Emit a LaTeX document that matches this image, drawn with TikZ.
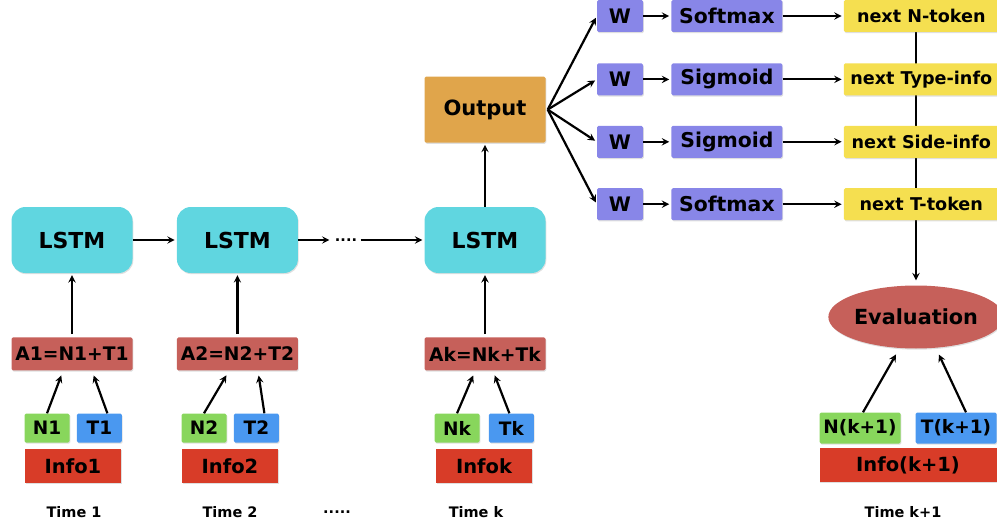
\documentclass[tikz,border=0pt]{standalone}
\usepackage{fontspec}
\setmainfont{DejaVu Sans}
\usepackage{tikz}
\usetikzlibrary{shapes.geometric, arrows, calc, positioning, shadows, backgrounds}
\definecolor{lstmcyan}{RGB}{96,214,224}
\definecolor{outorange}{RGB}{224,165,75}
\definecolor{sumred}{RGB}{198,96,90}
\definecolor{ngreen}{RGB}{136,214,92}
\definecolor{tblue}{RGB}{74,152,240}
\definecolor{infored}{RGB}{216,60,40}
\definecolor{wpurple}{RGB}{136,134,232}
\definecolor{nextyellow}{RGB}{245,223,80}
\tikzstyle{softshadow} = [drop shadow={shadow xshift=0.8pt, shadow yshift=-1.2pt, opacity=0.25}]
\tikzstyle{lstm} = [rectangle, rounded corners=14pt, fill=lstmcyan, minimum width=121pt, minimum height=66pt, inner sep=0pt, font=\fontsize{22}{26}\selectfont\bfseries, softshadow]
\tikzstyle{outbox} = [rectangle, rounded corners=1.5pt, fill=outorange, minimum width=121pt, minimum height=66pt, inner sep=0pt, font=\fontsize{21}{25}\selectfont\bfseries, softshadow]
\tikzstyle{sumbox} = [rectangle, rounded corners=1.5pt, fill=sumred, minimum width=121pt, minimum height=33pt, inner sep=0pt, font=\fontsize{18.7}{22}\selectfont\bfseries, softshadow]
\tikzstyle{ntok} = [rectangle, rounded corners=1.5pt, fill=ngreen, minimum width=45pt, minimum height=29pt, inner sep=0pt, font=\fontsize{18.5}{22}\selectfont\bfseries, softshadow]
\tikzstyle{ttok} = [ntok, fill=tblue]
\tikzstyle{infobox} = [rectangle, fill=infored, minimum width=96pt, minimum height=34pt, inner sep=0pt, font=\fontsize{19.5}{23}\selectfont\bfseries, softshadow]
\tikzstyle{wbox} = [rectangle, rounded corners=1.5pt, fill=wpurple, minimum width=46pt, minimum height=32pt, inner sep=0pt, font=\fontsize{20}{24}\selectfont\bfseries, softshadow]
\tikzstyle{actbox} = [wbox, minimum width=111pt, font=\fontsize{20.4}{24}\selectfont\bfseries]
\tikzstyle{nextbox} = [rectangle, rounded corners=1.5pt, fill=nextyellow, minimum width=155pt, minimum height=32pt, inner sep=0pt, font=\fontsize{17.6}{21}\selectfont\bfseries, softshadow]
\tikzstyle{evalnode} = [ellipse, fill=sumred, minimum width=155pt, minimum height=63pt, inner sep=0pt, font=\fontsize{20.8}{25}\selectfont\bfseries, softshadow]
\tikzstyle{timelabel} = [font=\fontsize{14.5}{17}\selectfont\bfseries]
\tikzstyle{arrow} = [line width=2.2pt,->,>=stealth, shorten >=2pt]

\begin{document}
\begin{tikzpicture}[x=1pt, y=-1pt]
	\useasboundingbox (0,0) rectangle (997,527);
	% recurrent chain
	\node (LSTMOne) [lstm] at (72,240) {LSTM};
	\node (LSTMTwo) [lstm, right = 44pt of LSTMOne] {LSTM};
	\node (Dots) [timelabel] at (346,240) {....};
	\node (LSTMk) [lstm] at (485,240) {LSTM};
	\node (Output) [outbox, above = 64pt of LSTMk] {Output};
	% inputs
	\node (AOne) [sumbox, below = 64pt of LSTMOne] {A1=N1+T1};
	\node (ATwo) [sumbox, below = 64pt of LSTMTwo] {A2=N2+T2};
	\node (Ak) [sumbox, below = 64pt of LSTMk] {Ak=Nk+Tk};
	\node (NOne) [ntok] at (47,428) {N1};
	\node (TOne) [ttok, right = 7pt of NOne] {T1};
	\node (InfoOne) [infobox] at (73,466) {Info1};
	\node (NTwo) [ntok] at (204,428) {N2};
	\node (TTwo) [ttok, right = 7pt of NTwo] {T2};
	\node (InfoTwo) [infobox] at (230,466) {Info2};
	\node (Nk) [ntok] at (457,428) {Nk};
	\node (Tk) [ttok, right = 9pt of Nk] {Tk};
	\node (Infok) [infobox] at (484,466) {Infok};
	% output heads
	\node (WOne) [wbox] at (620,16) {W};
	\node (WTwo) [wbox, below = 31pt of WOne] {W};
	\node (WThree) [wbox, below = 30pt of WTwo] {W};
	\node (WFour) [wbox, below = 30pt of WThree] {W};
	\node (SoftOne) [actbox, right = 28pt of WOne] {Softmax};
	\node (SigOne) [actbox, right = 28pt of WTwo] {Sigmoid};
	\node (SigTwo) [actbox, right = 28pt of WThree] {Sigmoid};
	\node (SoftTwo) [actbox, right = 28pt of WFour] {Softmax};
	\node (NextN) [nextbox, right = 61pt of SoftOne] {next N-token};
	\node (NextType) [nextbox, right = 61pt of SigOne] {next Type-info};
	\node (NextSide) [nextbox, right = 61pt of SigTwo] {next Side-info};
	\node (NextT) [nextbox, right = 61pt of SoftTwo] {next T-token};
	% evaluation at k+1
	\node (Evaluation) [evalnode] at (916,317) {Evaluation};
	\node (NkOne) [ntok, minimum width=81pt, minimum height=31pt] at (860,428) {N(k+1)};
	\node (TkOne) [ttok, minimum width=81pt, minimum height=31pt] at (956,428) {T(k+1)};
	\node (InfokOne) [infobox, minimum width=177pt] at (908,465) {Info(k+1)};
	% time labels
	\node (TimeOne) [timelabel] at (74,512) {Time 1};
	\node (TimeTwo) [timelabel] at (230,512) {Time 2};
	\node (TimeDots) [timelabel] at (337,512) {.....};
	\node (Timek) [timelabel] at (476,512) {Time k};
	\node (TimekOne) [timelabel] at (903,512) {Time k+1};

	\draw [arrow] (LSTMOne) -- (LSTMTwo);
	\draw [arrow] (LSTMTwo) -- (Dots);
	\draw [arrow] (Dots) -- (LSTMk);
	\draw [arrow] (LSTMk) -- (Output);
	\draw [arrow, shorten <=3pt] (AOne) -- (LSTMOne);
	\draw [arrow, shorten <=3pt] (ATwo) -- (LSTMTwo);
	\draw [arrow, shorten <=3pt] (Ak) -- (LSTMk);
	\draw [arrow] (NOne.north) -- ([xshift=-10pt, yshift=-3pt]AOne.south);
	\draw [arrow] ([xshift=8pt]TOne.north) -- ([xshift=21pt, yshift=-3pt]AOne.south);
	\draw [arrow] (NTwo.north) -- ([xshift=-10pt, yshift=-3pt]ATwo.south);
	\draw [arrow] ([xshift=8pt]TTwo.north) -- ([xshift=21pt, yshift=-3pt]ATwo.south);
	\draw [arrow] (Nk.north) -- ([xshift=-11pt, yshift=-3pt]Ak.south);
	\draw [arrow] ([xshift=-2pt]Tk.north) -- ([xshift=9pt, yshift=-3pt]Ak.south);
	\draw [arrow] ([xshift=2pt]Output.east) -- (WOne.west);
	\draw [arrow] ([xshift=2pt]Output.east) -- (WTwo.west);
	\draw [arrow] ([xshift=2pt]Output.east) -- (WThree.west);
	\draw [arrow] ([xshift=2pt]Output.east) -- (WFour.west);
	\draw [arrow] (WOne) -- (SoftOne);
	\draw [arrow] (WTwo) -- (SigOne);
	\draw [arrow] (WThree) -- (SigTwo);
	\draw [arrow] (WFour) -- (SoftTwo);
	\draw [arrow] (SoftOne) -- (NextN);
	\draw [arrow] (SigOne) -- (NextType);
	\draw [arrow] (SigTwo) -- (NextSide);
	\draw [arrow] (SoftTwo) -- (NextT);
	\begin{scope}[on background layer]
		\draw [arrow, shorten >=5pt] (Evaluation.north |- NextN.south) -- (Evaluation.north);
	\end{scope}
	\draw [arrow] ([xshift=3pt]NkOne.north) -- ([xshift=-19pt, yshift=-4pt]Evaluation.south);
	\draw [arrow] ([xshift=10pt]TkOne.north) -- ([xshift=22pt, yshift=-4pt]Evaluation.south);
\end{tikzpicture}
\end{document}
